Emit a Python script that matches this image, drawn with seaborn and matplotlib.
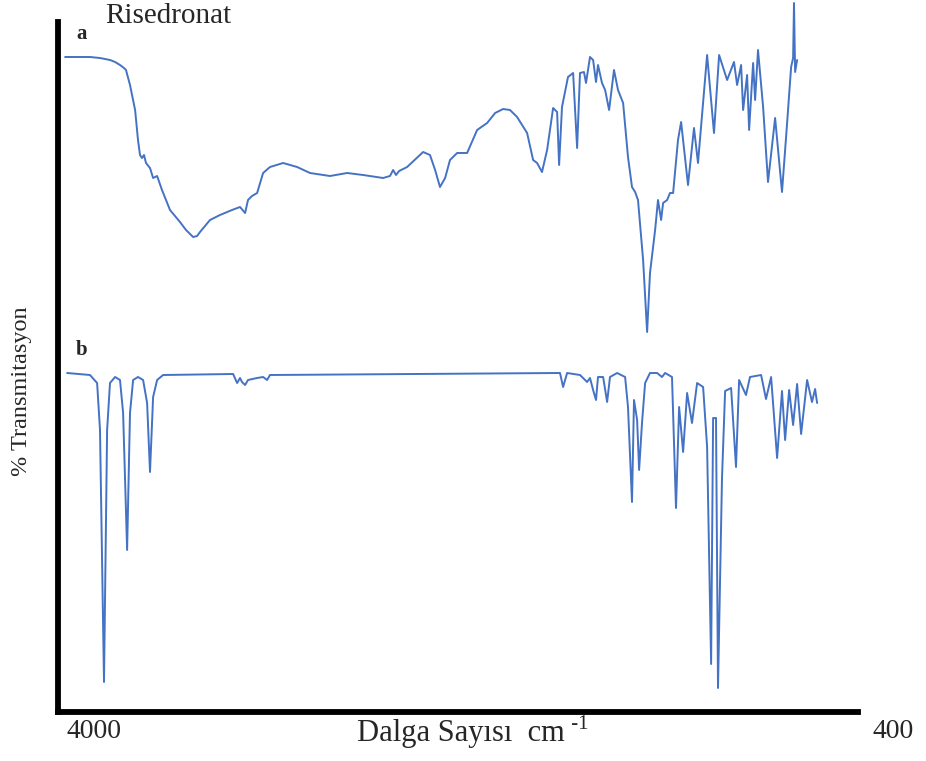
import matplotlib
matplotlib.use("Agg")
import matplotlib.pyplot as plt
import seaborn as sns
import pandas as pd

# FTIR spectra: wavenumber (cm-1) vs transmittance (offset, arbitrary units)
wn_a = [3968, 3901, 3856, 3811, 3788, 3766, 3743, 3721, 3703, 3694, 3676, 3653,
        3640, 3631, 3622, 3613, 3604, 3586, 3572, 3554, 3532, 3496, 3451, 3424,
        3392, 3374, 3361, 3316, 3271, 3217, 3181, 3158, 3145, 3127, 3104, 3077,
        3046, 2987, 2924, 2866, 2776, 2699, 2627, 2537, 2506, 2492, 2479, 2465,
        2429, 2357, 2326, 2303, 2281, 2258, 2236, 2204, 2159, 2114, 2069, 2033,
        1997, 1966, 1934, 1889, 1862, 1844, 1822, 1799, 1772, 1754, 1745, 1732,
        1705, 1682, 1664, 1651, 1633, 1624, 1606, 1592, 1579, 1570, 1552, 1538,
        1520, 1498, 1480, 1457, 1435, 1417, 1403, 1390, 1367, 1349, 1336, 1313,
        1300, 1286, 1277, 1259, 1246, 1232, 1210, 1196, 1165, 1138, 1120, 1079,
        1048, 1025, 989, 958, 944, 926, 917, 899, 890, 872, 863, 850, 827, 805,
        773, 742, 719, 701, 692, 688, 683, 674]
t_a = [65.5, 65.5, 65.5, 65.4, 65.3, 65.2, 65.0, 64.7, 64.4, 64.2, 62.7, 60.2,
       57.2, 55.7, 55.4, 55.7, 54.9, 54.4, 53.4, 53.6, 52.2, 50.2, 49.0, 48.2,
       47.5, 47.6, 48.0, 49.2, 49.7, 50.2, 50.5, 49.9, 51.2, 51.6, 51.9, 53.9,
       54.5, 54.9, 54.5, 53.9, 53.6, 53.9, 53.7, 53.4, 53.6, 54.2, 53.7, 54.1,
       54.5, 56.0, 55.7, 54.2, 52.5, 53.4, 55.2, 55.9, 55.9, 58.2, 58.9, 59.9,
       60.3, 60.2, 59.5, 57.9, 55.2, 54.9, 54.0, 56.2, 60.4, 60.0, 54.7, 60.5,
       63.5, 63.9, 56.4, 63.9, 64.0, 62.9, 65.5, 65.2, 63.0, 64.7, 62.9, 62.2,
       60.2, 64.2, 62.2, 60.9, 55.5, 52.5, 52.0, 51.2, 45.2, 38.0, 43.9, 48.2,
       51.2, 49.2, 50.9, 51.2, 51.9, 51.9, 57.2, 59.0, 52.7, 58.4, 54.9, 65.7,
       57.9, 65.7, 63.2, 65.0, 62.7, 64.7, 60.2, 63.7, 58.2, 64.9, 61.2, 66.2,
       60.5, 53.0, 59.4, 52.0, 58.9, 64.5, 65.4, 70.9, 64.0, 65.2]

wn_b = [3959, 3856, 3824, 3811, 3793, 3779, 3766, 3743, 3721, 3707, 3689, 3676,
        3662, 3640, 3617, 3599, 3586, 3572, 3554, 3527, 3212, 3194, 3181, 3172,
        3158, 3145, 3104, 3077, 3059, 3046, 1741, 1727, 1709, 1651, 1619, 1606,
        1592, 1579, 1570, 1547, 1529, 1516, 1484, 1448, 1435, 1417, 1408, 1394,
        1385, 1372, 1358, 1336, 1304, 1282, 1268, 1237, 1219, 1205, 1187, 1169,
        1147, 1124, 1097, 1079, 1061, 1052, 1039, 1030, 1012, 998, 971, 949, 935,
        904, 886, 836, 814, 791, 764, 742, 728, 710, 692, 674, 656, 629, 607,
        593, 584]
t_b = [33.9, 33.7, 32.9, 28.2, 3.0, 28.2, 32.9, 33.5, 33.2, 29.9, 16.2, 29.9,
       33.2, 33.5, 33.2, 30.9, 24.0, 31.5, 33.2, 33.7, 33.8, 32.9, 33.4, 33.0,
       32.7, 33.2, 33.4, 33.5, 33.2, 33.7, 33.9, 32.5, 33.9, 33.7, 33.0, 33.4,
       32.2, 31.2, 33.5, 33.5, 31.0, 33.5, 33.9, 33.5, 30.5, 21.0, 31.2, 29.2,
       24.2, 28.9, 32.9, 33.9, 33.9, 33.5, 33.9, 33.5, 20.4, 30.5, 26.0, 31.9,
       28.9, 32.9, 32.5, 26.5, 4.8, 29.4, 29.4, 2.4, 23.4, 32.1, 32.4, 24.5,
       33.2, 31.7, 33.5, 33.7, 31.3, 33.5, 25.4, 32.1, 27.2, 32.2, 28.7, 32.8,
       27.8, 33.2, 31.0, 32.3, 30.9]

x_ends = ["4000", "400"]

df_a = pd.DataFrame({"wn": wn_a, "T": t_a})
df_b = pd.DataFrame({"wn": wn_b, "T": t_b})

sns.set_style("white")
plt.rcParams["font.family"] = ["Liberation Serif", "DejaVu Serif"]

fig = plt.figure(figsize=(9.26, 7.61), dpi=100)
W, H = 926, 761
ax = fig.add_axes([58 / W, (H - 712) / H, 800 / W, 690 / H])

line_col = "#4472C4"
sns.lineplot(data=df_a, x="wn", y="T", ax=ax, color=line_col, lw=1.4,
             sort=False, estimator=None, clip_on=False)
sns.lineplot(data=df_b, x="wn", y="T", ax=ax, color=line_col, lw=1.4,
             sort=False, estimator=None, clip_on=False)

ax.set_xlim(4000, 400)
ax.set_ylim(0, 69)
ax.set_xticks([])
ax.set_yticks([])
ax.set_xlabel("")
ax.set_ylabel("")
for side in ["top", "right"]:
    ax.spines[side].set_visible(False)
for side in ["left", "bottom"]:
    ax.spines[side].set_color("black")
    ax.spines[side].set_linewidth(4.2)


def ftxt(px, py, s, **kw):
    return fig.text(px / W, 1 - py / H, s, **kw)


ftxt(168, 16, "Risedronat", fontsize=21, ha="center", va="center")
ftxt(82, 34, "a", fontsize=15, fontweight="bold", ha="center", va="center")
ftxt(82, 350, "b", fontsize=15, fontweight="bold", ha="center", va="center")
ftxt(22, 391, "% Transmitasyon", fontsize=17.5, rotation=90,
     ha="center", va="center")
ftxt(94, 731, x_ends[0], fontsize=20, ha="center", va="center")
ftxt(893, 731, x_ends[1], fontsize=20, ha="center", va="center")
xl = ftxt(357, 734, "Dalga Sayısı  cm", fontsize=22, ha="left", va="center")
ax.annotate(" -1", xy=(1.0, 1.0), xycoords=xl, xytext=(1, 3),
            textcoords="offset points", fontsize=15, ha="left", va="top",
            annotation_clip=False)

fig.savefig("out.png", dpi=100, facecolor="white")
